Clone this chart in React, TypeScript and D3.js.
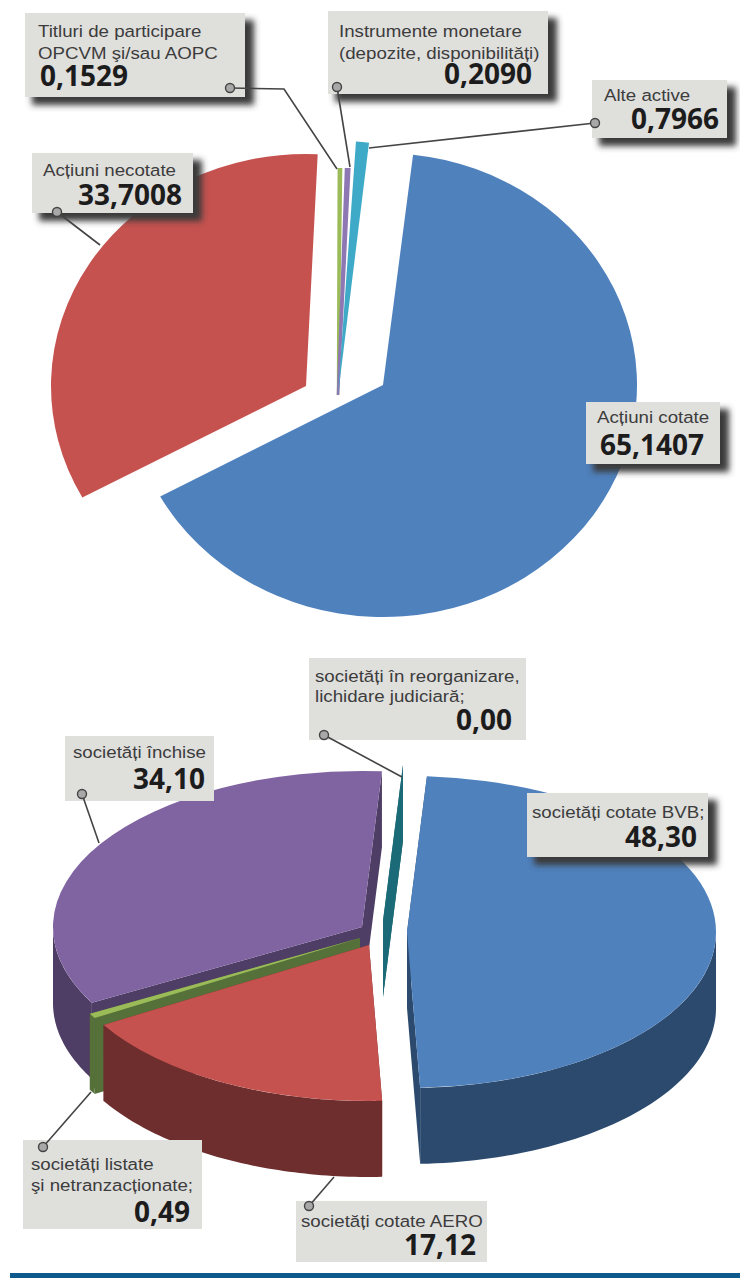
import React from "react";
import * as d3 from "d3";

// Portfolio structure: top pie
const assetNames = ["Acțiuni cotate", "Acțiuni necotate", "Titluri de participare", "Instrumente monetare", "Alte active"];
const assetValues = [65.1407, 33.7008, 0.1529, 0.209, 0.7966];
const assetColors = ["#4F81BD", "#C5524F", "#9BBB59", "#8D78B4", "#3FAAC8"];

// Share structure: extruded bottom pie
const companyNames = ["societăți cotate BVB", "societăți cotate AERO", "societăți listate", "societăți închise", "societăți în reorganizare"];
const companyValues = [48.3, 17.12, 0.49, 34.1, 0.0];
const companyTops = ["#4F81BD", "#C5524F", "#9BBB59", "#8064A2", "#1B6A78"];
const companySides = ["#2C4A6E", "#6E2E2D", "#56703A", "#4E3D64", "#1B6A78"];

const rad = (deg: number) => (deg * Math.PI) / 180;

// Each exploded wedge has its own centre, radii and small angular nudge.
const assetGeometry = [
  { cx: 383, cy: 385, rx: 254, ry: 232, nudge: 0, edge: 0 },
  { cx: 306, cy: 386, rx: 255, ry: 232, nudge: 0, edge: 0 },
  { cx: 338, cy: 395, rx: 245, ry: 226, nudge: -2.45, edge: 2.4 },
  { cx: 338, cy: 395, rx: 245, ry: 226, nudge: -1.3, edge: 2.6 },
  { cx: 338, cy: 395, rx: 262, ry: 254, nudge: 0, edge: 0 },
];
const companyGeometry = [
  { cx: 407, cy: 932, rx: 309, ry: 156 },
  { cx: 369, cy: 945, rx: 309, ry: 156 },
  { cx: 360, cy: 938, rx: 309, ry: 156 },
  { cx: 362, cy: 927, rx: 309, ry: 156 },
  { cx: 383, cy: 921, rx: 309, ry: 156 },
];
const companyDrawOrder = [3, 2, 1, 0, 4];
const wallDepth = 76;

const assetArcs = d3.pie<number>().sort(null).startAngle(rad(6.8)).endAngle(rad(366.8))(assetValues);
const companyArcs = d3.pie<number>().sort(null).startAngle(rad(3.7)).endAngle(rad(363.7))(companyValues);

const closedLine = d3.line<[number, number]>().curve(d3.curveLinearClosed);

function rimPoint(g: { cx: number; cy: number; rx: number; ry: number }, t: number): [number, number] {
  return [g.cx + g.rx * Math.sin(t), g.cy - g.ry * Math.cos(t)];
}

function topPath(g: { rx: number }, a0: number, a1: number) {
  return d3.arc()({ innerRadius: 0, outerRadius: g.rx, startAngle: a0, endAngle: a1 }) ?? "";
}

function cutFace(g: { cx: number; cy: number; rx: number; ry: number }, t: number) {
  const [x, y] = rimPoint(g, t);
  return closedLine([
    [g.cx, g.cy],
    [x, y],
    [x, y + wallDepth],
    [g.cx, g.cy + wallDepth],
  ]) ?? "";
}

function outerWall(g: { cx: number; cy: number; rx: number; ry: number }, a0: number, a1: number) {
  const from = Math.max(a0, Math.PI / 2);
  const to = Math.min(a1, (3 * Math.PI) / 2);
  if (to <= from) return "";
  const angles = d3.range(0, 61).map((i) => from + ((to - from) * i) / 60);
  const upper = angles.map((t) => rimPoint(g, t));
  const lower = upper.map(([x, y]) => [x, y + wallDepth] as [number, number]).reverse();
  return closedLine([...upper, ...lower]) ?? "";
}

type Callout = {
  box: [number, number, number, number];
  shadow: boolean;
  lines: { text: string; x: number; y: number }[];
  value: string;
  valueX: number;
  valueY: number;
  leader: [number, number][];
};

const callouts: Callout[] = [
  {
    box: [25, 13, 220, 84], shadow: true,
    lines: [{ text: "Titluri de participare", x: 38, y: 37 }, { text: "OPCVM şi/sau AOPC", x: 38, y: 59 }],
    value: "0,1529", valueX: 128, valueY: 86,
    leader: [[230, 88], [284, 89], [337, 169]],
  },
  {
    box: [328, 11, 220, 83], shadow: true,
    lines: [{ text: "Instrumente monetare", x: 339, y: 37 }, { text: "(depozite, disponibilități)", x: 339, y: 59 }],
    value: "0,2090", valueX: 532, valueY: 84,
    leader: [[337, 87], [350, 167]],
  },
  {
    box: [592, 80, 135, 58], shadow: true,
    lines: [{ text: "Alte active", x: 604, y: 101 }],
    value: "0,7966", valueX: 719, valueY: 129,
    leader: [[595, 123], [369, 148]],
  },
  {
    box: [32, 153, 161, 60], shadow: true,
    lines: [{ text: "Acțiuni necotate", x: 43, y: 176 }],
    value: "33,7008", valueX: 182, valueY: 205,
    leader: [[57, 212], [100, 245]],
  },
  {
    box: [586, 402, 134, 62], shadow: true,
    lines: [{ text: "Acțiuni cotate", x: 597, y: 423 }],
    value: "65,1407", valueX: 704, valueY: 455,
    leader: [],
  },
  {
    box: [309, 658, 217, 82], shadow: false,
    lines: [{ text: "societăți în reorganizare,", x: 315, y: 682 }, { text: "lichidare judiciară;", x: 315, y: 702 }],
    value: "0,00", valueX: 512, valueY: 730,
    leader: [[324, 735], [402, 777]],
  },
  {
    box: [527, 793, 181, 64], shadow: true,
    lines: [{ text: "societăți cotate BVB;", x: 532, y: 818 }],
    value: "48,30", valueX: 697, valueY: 847,
    leader: [],
  },
  {
    box: [65, 736, 149, 65], shadow: false,
    lines: [{ text: "societăți închise", x: 73, y: 758 }],
    value: "34,10", valueX: 205, valueY: 789,
    leader: [[82, 794], [99, 843]],
  },
  {
    box: [23, 1140, 179, 89], shadow: false,
    lines: [{ text: "societăți listate", x: 31, y: 1170 }, { text: "şi netranzacționate;", x: 31, y: 1191 }],
    value: "0,49", valueX: 190, valueY: 1222,
    leader: [[43, 1147], [91, 1092]],
  },
  {
    box: [296, 1201, 191, 61], shadow: false,
    lines: [{ text: "societăți cotate AERO", x: 301, y: 1227 }],
    value: "17,12", valueX: 476, valueY: 1255,
    leader: [[309, 1206], [334, 1177]],
  },
];

const leaderLine = d3.line<[number, number]>();

function CalloutBox({ c }: { c: Callout }) {
  const [x, y, w, h] = c.box;
  return (
    <g>
      {c.shadow && <rect x={x + 7} y={y + 7} width={w + 2} height={h + 1} fill="#3a3a3a" filter="url(#soft)" />}
      <rect x={x} y={y} width={w} height={h} fill="#DFDFDC" />
      {c.lines.map((l) => (
        <text
          key={l.text}
          transform={`translate(${l.x},${l.y}) scale(1.1,1)`}
          fontFamily="'Liberation Sans', Arial, sans-serif"
          fontSize={17}
          fill="#3c3c3c"
        >
          {l.text}
        </text>
      ))}
      <text
        x={c.valueX}
        y={c.valueY}
        textAnchor="end"
        fontFamily="'Open Sans', sans-serif"
        fontWeight={700}
        fontSize={28}
        fill="#1c1c1c"
      >
        {c.value}
      </text>
    </g>
  );
}

function Leader({ c }: { c: Callout }) {
  if (c.leader.length === 0) return null;
  return (
    <g>
      <path d={leaderLine(c.leader) ?? ""} fill="none" stroke="#444" strokeWidth={1.6} />
      <circle cx={c.leader[0][0]} cy={c.leader[0][1]} r={4.5} fill="#a8a8a8" stroke="#444" strokeWidth={1.4} />
    </g>
  );
}

export default function App() {
  return (
    <svg
      width={740}
      height={1278}
      viewBox="0 0 740 1278"
      style={{ position: "absolute", left: 0, top: 0, display: "block", background: "#fff" }}
    >
      <defs>
        <filter id="soft" x="-20%" y="-20%" width="140%" height="140%">
          <feGaussianBlur stdDeviation="3" />
        </filter>
      </defs>

      {/* Flat exploded pie */}
      {assetArcs.map((a, i) => {
        const g = assetGeometry[i];
        const n = rad(g.nudge);
        return (
          <path
            key={assetNames[i]}
            d={topPath(g, a.startAngle + n, a.endAngle + n)}
            transform={`translate(${g.cx},${g.cy}) scale(1,${g.ry / g.rx})`}
            fill={assetColors[i]}
            stroke={g.edge ? assetColors[i] : "none"}
            strokeWidth={g.edge}
          />
        );
      })}

      {/* Extruded exploded pie, painted back to front */}
      {companyDrawOrder.map((i) => {
        const a = companyArcs[i];
        const g = companyGeometry[i];
        return (
          <g key={companyNames[i]}>
            <path d={cutFace(g, a.startAngle)} fill={companySides[i]} />
            <path d={cutFace(g, a.endAngle)} fill={companySides[i]} />
            <path d={outerWall(g, a.startAngle, a.endAngle)} fill={companySides[i]} />
            <path
              d={topPath(g, a.startAngle, a.endAngle)}
              transform={`translate(${g.cx},${g.cy}) scale(1,${g.ry / g.rx})`}
              fill={companyTops[i]}
            />
          </g>
        );
      })}

      {callouts.map((c) => (
        <CalloutBox key={c.value} c={c} />
      ))}
      {callouts.map((c) => (
        <Leader key={c.value} c={c} />
      ))}

      {/* Page footer rule */}
      <rect x={10} y={1273} width={730} height={5} fill="#0E5A8C" />
    </svg>
  );
}
